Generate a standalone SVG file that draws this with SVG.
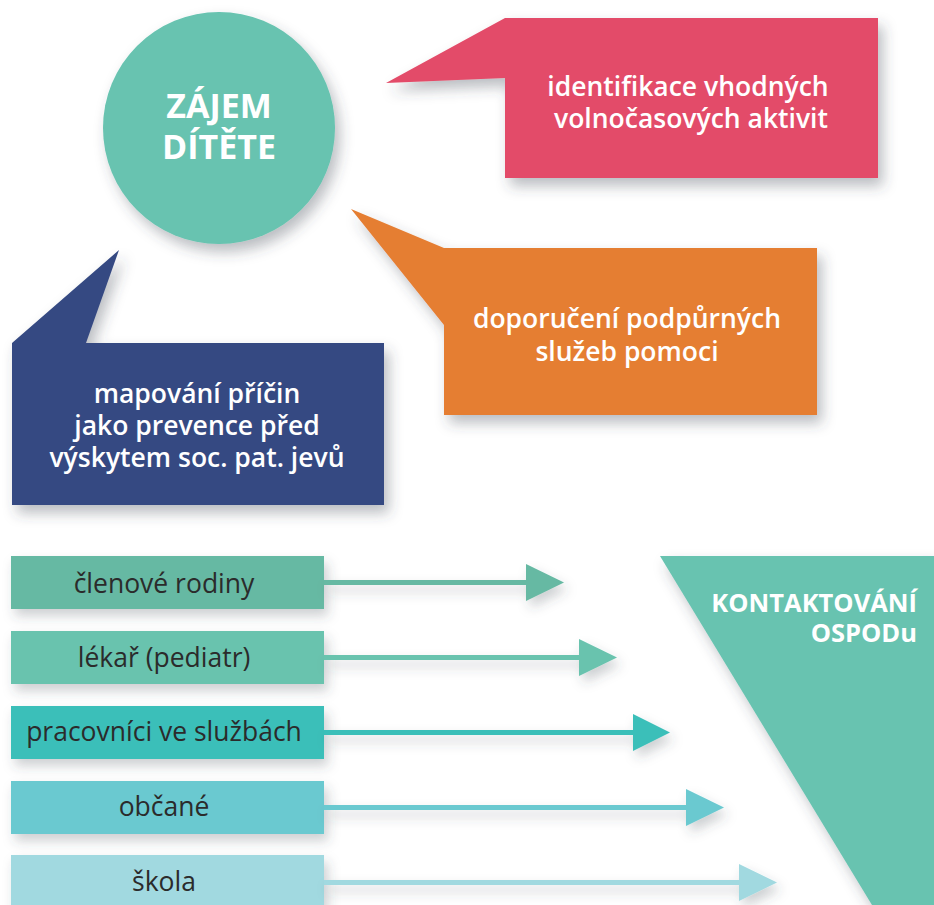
<svg xmlns="http://www.w3.org/2000/svg" width="934" height="905" viewBox="0 0 934 905">
  <defs>
    <filter id="sh" x="-20%" y="-20%" width="150%" height="160%">
      <feDropShadow dx="5" dy="8" stdDeviation="7" flood-color="#3a4550" flood-opacity="0.35"/>
    </filter>
    <filter id="shs" x="-30%" y="-60%" width="180%" height="260%">
      <feDropShadow dx="4" dy="7" stdDeviation="6" flood-color="#3a4550" flood-opacity="0.25"/>
    </filter>
  </defs>
  <style>
    .w { fill: #ffffff; font-family: "Open Sans", "Noto Sans", "Liberation Sans", sans-serif; }
    .title { font-size: 34px; font-weight: 700; }
    .call { font-size: 26.5px; font-weight: 600; }
    .lbl { fill: #2b2b2b; font-family: "Open Sans", "Noto Sans", "Liberation Sans", sans-serif; font-size: 26.5px; }
    .kt { font-size: 25.5px; font-weight: 700; }
  </style>
  <rect width="934" height="905" fill="#ffffff"/>

  <g id="zajem">
    <circle cx="219" cy="128" r="116" fill="#67C3B0" filter="url(#sh)"/>
    <text class="w title" text-anchor="middle"><tspan x="219" y="118">ZÁJEM</tspan><tspan x="219" y="159">DÍTĚTE</tspan></text>
  </g>

  <g id="identifikace">
    <path d="M505,18 L878,18 L878,178 L505,178 L505,78 L386,83 Z" fill="#E34C69" filter="url(#sh)"/>
    <text class="w call" text-anchor="middle"><tspan x="688" y="96">identifikace vhodných</tspan><tspan x="691" y="128">volnočasových aktivit</tspan></text>
  </g>

  <g id="doporuceni">
    <path d="M351,209 L444,248 L817,248 L817,415 L444,415 L444,325 Z" fill="#E57E32" filter="url(#sh)"/>
    <text class="w call" text-anchor="middle"><tspan x="627" y="328">doporučení podpůrných</tspan><tspan x="627" y="361">služeb pomoci</tspan></text>
  </g>

  <g id="mapovani">
    <path d="M119,250 L86,343 L384,343 L384,505 L12,505 L12,343 Z" fill="#364A82" filter="url(#sh)"/>
    <text class="w call" text-anchor="middle"><tspan x="197" y="403">mapování příčin</tspan><tspan x="197" y="435">jako prevence před</tspan><tspan x="197" y="467">výskytem soc. pat. jevů</tspan></text>
  </g>

  <g id="ospod">
    <polygon points="660,556 934,556 934,905 872,905" fill="#67C3B0" filter="url(#sh)"/>
    <text class="w kt" text-anchor="end"><tspan x="917" y="612">KONTAKTOVÁNÍ</tspan><tspan x="917" y="642">OSPODu</tspan></text>
  </g>

  <g id="clenove">
    <rect x="11" y="556" width="313" height="53" fill="#66B9A3" filter="url(#shs)"/>
    <text class="lbl" x="164" y="593" text-anchor="middle">členové rodiny</text>
  </g>
  <g id="lekar">
    <rect x="11" y="631" width="313" height="53" fill="#69C3AE" filter="url(#shs)"/>
    <text class="lbl" x="164" y="667" text-anchor="middle">lékař (pediatr)</text>
  </g>
  <g id="pracovnici">
    <rect x="11" y="706" width="313" height="53" fill="#3BBFB9" filter="url(#shs)"/>
    <text class="lbl" x="164" y="741" text-anchor="middle">pracovníci ve službách</text>
  </g>
  <g id="obcane">
    <rect x="11" y="781" width="313" height="53" fill="#6AC9D0" filter="url(#shs)"/>
    <text class="lbl" x="164" y="816" text-anchor="middle">občané</text>
  </g>
  <g id="skola">
    <rect x="11" y="855" width="313" height="60" fill="#A1D9E0" filter="url(#shs)"/>
    <text class="lbl" x="164" y="891" text-anchor="middle">škola</text>
  </g>

  <g id="connectors">
    <g filter="url(#shs)">
      <rect x="324" y="580" width="203" height="5" fill="#66B9A3"/>
      <polygon points="526,564 564,582.5 526,601" fill="#66B9A3"/>
      <rect x="324" y="655" width="256" height="5" fill="#69C3AE"/>
      <polygon points="579,639 617,657.5 579,676" fill="#69C3AE"/>
      <rect x="324" y="730" width="310" height="5" fill="#3BBFB9"/>
      <polygon points="633,714 670,732.5 633,751" fill="#3BBFB9"/>
      <rect x="324" y="805" width="363" height="5" fill="#6AC9D0"/>
      <polygon points="686,789 724,807.5 686,826" fill="#6AC9D0"/>
      <rect x="324" y="880" width="416" height="5" fill="#A1D9E0"/>
      <polygon points="739,864 777,882.5 739,901" fill="#A1D9E0"/>
    </g>
  </g>
</svg>
